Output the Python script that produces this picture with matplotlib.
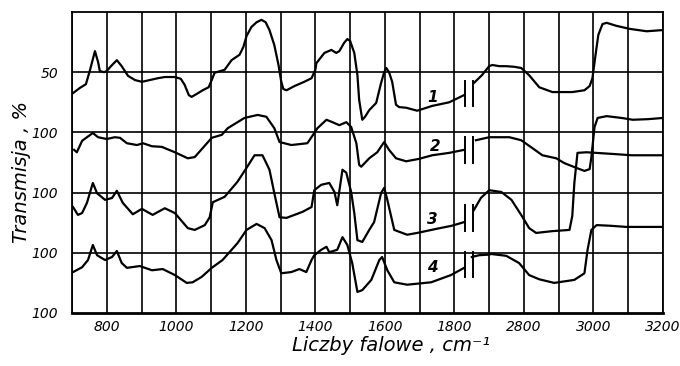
import numpy as np
import matplotlib
matplotlib.use("Agg")
import matplotlib.pyplot as plt

NaN = float("nan")

# ---- data (wavenumber cm^-1, stacked transmission in chart rows) ----
wn1 = [700, 723, 740, 752, 766, 775, 780, 792, 800, 812, 829, 843, 861, 881, 901, 924, 947, 967, 996,
       1013, 1024, 1036, 1044, 1059, 1076, 1093, 1102, 1110, 1139, 1159, 1182, 1193, 1202, 1216, 1231,
       1245, 1257, 1268, 1282, 1294, 1302, 1308, 1317, 1340, 1368, 1389, 1400, 1403, 1426, 1446, 1460,
       1469, 1483, 1492, 1500, 1512, 1521, 1526, 1535, 1543, 1555, 1575, 1589, 1598, 1604, 1612, 1621,
       1632, 1641, 1661, 1693, 1736, 1785, 1828, 1840, 1856, 1879, 2700, 2709, 2729, 2749, 2772, 2792,
       2815, 2844, 2882, 2939, 2974, 2989, 2997, 3006, 3014, 3026, 3038, 3066, 3104, 3153, 3200]
t1 = [3.64, 3.74, 3.80, 4.04, 4.35, 4.17, 4.02, 4.00, 4.02, 4.10, 4.20, 4.10, 3.94, 3.87, 3.84, 3.87,
      3.90, 3.92, 3.92, 3.89, 3.79, 3.62, 3.59, 3.64, 3.70, 3.75, 3.87, 3.99, 4.04, 4.20, 4.29, 4.42,
      4.60, 4.75, 4.83, 4.87, 4.83, 4.70, 4.45, 4.12, 3.84, 3.72, 3.70, 3.77, 3.84, 3.90, 4.04, 4.15,
      4.32, 4.37, 4.32, 4.35, 4.49, 4.55, 4.52, 4.32, 3.95, 3.54, 3.21, 3.26, 3.37, 3.49, 3.82, 4.00,
      4.07, 4.00, 3.84, 3.46, 3.42, 3.41, 3.36, 3.44, 3.50, 3.62, NaN, 3.82, 3.95, 4.10, 4.12, 4.10,
      4.10, 4.09, 4.07, 3.95, 3.75, 3.67, 3.67, 3.70, 3.77, 3.90, 4.29, 4.62, 4.80, 4.82, 4.77, 4.72,
      4.68, 4.70]

wn2 = [706, 714, 729, 743, 760, 775, 800, 823, 838, 858, 887, 904, 930, 958, 996, 1033, 1053, 1076,
       1102, 1131, 1148, 1196, 1234, 1259, 1282, 1297, 1331, 1377, 1397, 1406, 1432, 1449, 1469, 1489,
       1503, 1518, 1526, 1532, 1555, 1578, 1598, 1612, 1632, 1661, 1698, 1736, 1785, 1828, 1840, 1862,
       2700, 2758, 2792, 2824, 2853, 2893, 2916, 2951, 2974, 2989, 2994, 3003, 3012, 3038, 3081, 3113,
       3157, 3200]
t2 = [2.71, 2.67, 2.86, 2.92, 2.99, 2.92, 2.89, 2.92, 2.91, 2.82, 2.79, 2.82, 2.77, 2.76, 2.67, 2.57,
      2.59, 2.74, 2.91, 2.96, 3.07, 3.24, 3.29, 3.26, 3.07, 2.84, 2.79, 2.82, 2.99, 3.07, 3.21, 3.17,
      3.12, 3.17, 3.09, 2.82, 2.46, 2.43, 2.57, 2.67, 2.84, 2.71, 2.57, 2.52, 2.56, 2.62, 2.66, 2.71,
      NaN, 2.87, 2.92, 2.92, 2.87, 2.74, 2.62, 2.57, 2.49, 2.41, 2.36, 2.39, 2.59, 3.09, 3.24, 3.27,
      3.24, 3.21, 3.22, 3.24]

wn3 = [703, 717, 729, 743, 760, 772, 795, 815, 829, 846, 875, 901, 932, 967, 996, 1033, 1053, 1082,
       1096, 1105, 1139, 1176, 1202, 1225, 1248, 1268, 1282, 1297, 1317, 1340, 1363, 1389, 1397, 1417,
       1440, 1455, 1463, 1478, 1489, 1503, 1512, 1521, 1535, 1555, 1569, 1589, 1598, 1607, 1627, 1664,
       1693, 1750, 1793, 1828, 1840, 1856, 1876, 2700, 2735, 2764, 2792, 2815, 2835, 2882, 2931, 2939,
       2945, 2954, 2980, 3061, 3110, 3200]
t3 = [1.76, 1.63, 1.66, 1.83, 2.16, 1.99, 1.88, 1.91, 2.03, 1.83, 1.64, 1.73, 1.63, 1.74, 1.66, 1.41,
      1.38, 1.46, 1.59, 1.84, 1.93, 2.18, 2.41, 2.62, 2.62, 2.38, 1.99, 1.59, 1.58, 1.63, 1.68, 1.76,
      2.04, 2.13, 2.16, 2.01, 1.79, 2.38, 2.33, 2.01, 1.66, 1.21, 1.18, 1.38, 1.51, 1.99, 2.08, 1.88,
      1.38, 1.30, 1.33, 1.40, 1.45, 1.51, NaN, 1.71, 1.91, 2.04, 2.01, 1.88, 1.63, 1.41, 1.33, 1.36,
      1.38, 1.61, 2.16, 2.66, 2.67, 2.64, 2.62, 2.62]

wn4 = [703, 729, 746, 760, 772, 795, 815, 829, 843, 858, 895, 930, 961, 996, 1030, 1047, 1073, 1102,
       1133, 1176, 1202, 1231, 1254, 1274, 1288, 1302, 1331, 1354, 1374, 1389, 1397, 1417, 1432, 1440,
       1463, 1478, 1492, 1506, 1521, 1535, 1561, 1584, 1592, 1607, 1627, 1664, 1733, 1790, 1828, 1840,
       1850, 1871, 2700, 2706, 2749, 2786, 2815, 2844, 2887, 2945, 2974, 2983, 2994, 3009, 3046, 3095,
       3200]
t4 = [0.68, 0.76, 0.88, 1.13, 0.96, 0.88, 0.93, 1.03, 0.83, 0.75, 0.78, 0.71, 0.73, 0.63, 0.50, 0.51,
      0.60, 0.75, 0.88, 1.16, 1.38, 1.48, 1.41, 1.21, 0.88, 0.66, 0.68, 0.73, 0.68, 0.88, 0.96, 1.05,
      1.10, 1.01, 1.05, 1.26, 1.13, 0.83, 0.35, 0.38, 0.55, 0.88, 0.93, 0.71, 0.51, 0.47, 0.51, 0.63,
      0.75, NaN, 0.93, 0.96, 0.97, 0.98, 0.95, 0.83, 0.63, 0.56, 0.50, 0.55, 0.66, 1.05, 1.38, 1.46,
      1.45, 1.43, 1.43]

curve_labels = ["1", "2", "3", "4"]
label_wn = [1738, 1745, 1736, 1736]
label_t = [3.58, 2.77, 1.55, 0.76]
break_center = [3.65, 2.71, 1.58, 0.80]

xtick_vals = [800, 1000, 1200, 1400, 1600, 1800, 2800, 3000, 3200]
xgrid_vals = [700, 800, 900, 1000, 1100, 1200, 1300, 1400, 1500, 1600, 1700, 1800, 1900,
              2800, 2900, 3000, 3100, 3200]
ytick_vals = [0, 1, 2, 3, 4]
ytick_labels = ["100", "100", "100", "100", "50"]
break_wn = [1830, 1853]

# ---- broken wavenumber axis: 1900 joins 2700 ----
def fwd(x):
    x = np.asarray(x, dtype=float)
    return np.where(x <= 1900, x, np.where(x >= 2700, x - 800, 1900))

def inv(y):
    y = np.asarray(y, dtype=float)
    return np.where(y <= 1900, y, y + 800)

fig = plt.figure(figsize=(6.8, 3.66), dpi=100)
ax = fig.add_axes([72 / 680, 1 - 313 / 366, (663 - 72) / 680, (313 - 12) / 366])
ax.set_xscale("function", functions=(fwd, inv))
ax.set_xlim(700, 3200)
ax.set_ylim(0, 5)

for xv in xgrid_vals:
    ax.axvline(xv, color="black", lw=1.2, zorder=1)
for yv in ytick_vals[1:]:
    ax.axhline(yv, color="black", lw=1.2, zorder=1)

for wn, t in [(wn1, t1), (wn2, t2), (wn3, t3), (wn4, t4)]:
    ax.plot(wn, t, color="black", lw=1.6, zorder=3)

for lab, lx, ly, bc in zip(curve_labels, label_wn, label_t, break_center):
    ax.text(lx, ly, lab, fontsize=11, style="italic", fontweight="bold",
            ha="center", va="center", zorder=4)
    for bx in break_wn:
        ax.plot([bx, bx], [bc - 0.21, bc + 0.21], color="black", lw=1.4, zorder=4)

ax.set_xticks(xtick_vals)
ax.set_xticklabels([str(v) for v in xtick_vals], fontsize=10, style="italic")
ax.set_xticks([], minor=True)
ax.set_yticks(ytick_vals)
ax.set_yticklabels(ytick_labels, fontsize=10, style="italic")
ax.tick_params(axis="x", which="both", length=0, pad=5)
ax.tick_params(axis="y", which="both", length=0, pad=10)

for s in ax.spines.values():
    s.set_linewidth(1.3)
ax.spines["bottom"].set_linewidth(2.0)

ax.set_xlabel("Liczby falowe , cm\u207b\u00b9", fontsize=14, style="italic")
ax.xaxis.set_label_coords(0.54, -0.075)
ax.set_ylabel("Transmisja , %", fontsize=14, style="italic")
ax.yaxis.set_label_coords(-0.07, 0.47)

fig.savefig("out.png", dpi=100, facecolor="white")
